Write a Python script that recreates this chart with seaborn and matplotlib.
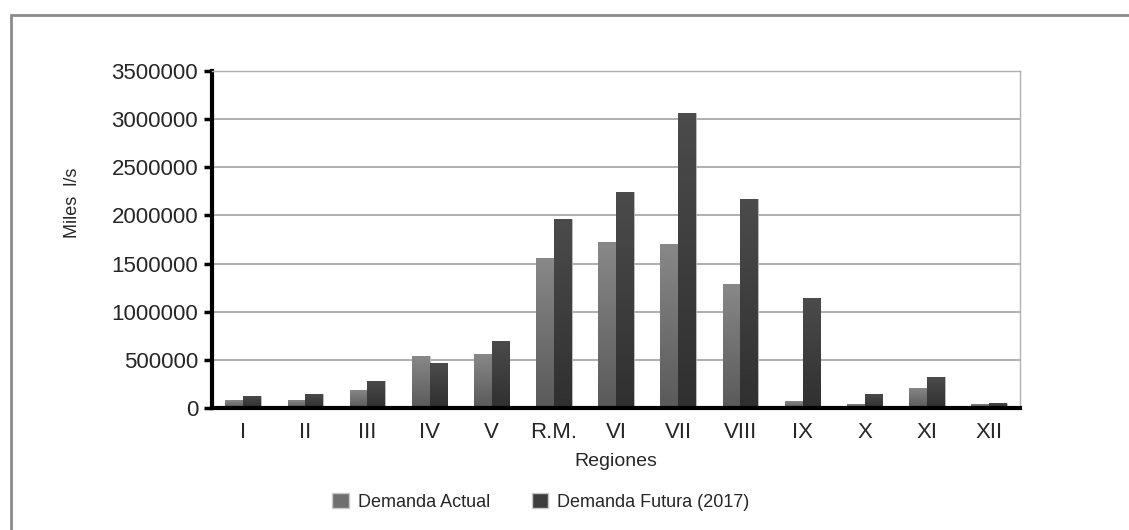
import numpy as np
import pandas as pd
import seaborn as sns
import matplotlib.pyplot as plt
from matplotlib.colors import LinearSegmentedColormap
from matplotlib.lines import Line2D

regiones = ['I', 'II', 'III', 'IV', 'V', 'R.M.', 'VI', 'VII', 'VIII', 'IX', 'X', 'XI', 'XII']
demanda_actual = [80000, 80000, 191000, 535000, 562000, 1559000, 1719000, 1701000,
                  1285000, 69000, 45000, 212000, 45000]
demanda_futura = [128000, 146000, 285000, 472000, 701000, 1965000, 2240000, 3066000,
                  2170000, 1142000, 149000, 319000, 56000]
series = ['Demanda Actual', 'Demanda Futura (2017)']

df = pd.DataFrame({
    'Regiones': regiones * 2,
    'valor': demanda_actual + demanda_futura,
    'serie': [series[0]] * len(regiones) + [series[1]] * len(regiones),
})

sns.set_style('white')
plt.rcParams['font.family'] = ['Liberation Sans', 'DejaVu Sans']

fig = plt.figure(figsize=(11.29, 5.30), dpi=100)
ax = fig.add_axes([0.1878, 0.2302, 0.7157, 0.6358])

colores = {series[0]: '#6f6f6f', series[1]: '#3d3d3d'}
sns.barplot(data=df, x='Regiones', y='valor', hue='serie', palette=colores,
            width=0.57, gap=0, ax=ax, legend=False, edgecolor='#c8c8c8', linewidth=0.5)

# vertical gradient on each bar, like the original spreadsheet look
grad = {series[0]: ('#5a5a5a', '#888888'), series[1]: ('#303030', '#4b4b4b')}
n = len(regiones)
for i, p in enumerate(ax.patches[:2 * n]):
    lo, hi = grad[series[i // n]]
    cmap = LinearSegmentedColormap.from_list('g', [lo, hi])
    x0, y0 = p.get_x(), p.get_y()
    w, h = p.get_width(), p.get_height()
    im = ax.imshow(np.linspace(0, 1, 64).reshape(-1, 1), cmap=cmap, aspect='auto',
                   origin='lower', extent=[x0, x0 + w, y0, y0 + h], zorder=p.get_zorder())
    im.set_clip_path(p)

ax.set_xlim(-0.5, n - 0.5)
ax.set_ylim(0, 3500000)
ax.set_yticks(np.arange(0, 3500001, 500000))
ax.set_yticklabels([f'{v}' for v in range(0, 3500001, 500000)], fontsize=16)
ax.set_xticks(range(n))
ax.set_xticklabels(regiones, fontsize=16)
ax.set_xticks(np.arange(-0.5, n, 1), minor=True)
ax.tick_params(axis='x', which='major', length=0, pad=10)
ax.tick_params(axis='x', which='minor', length=5, width=2.5, direction='out', color='black')
ax.tick_params(axis='y', length=6, width=2.5, direction='out', color='black', left=True, pad=4)

ax.grid(axis='y', color='#9a9a9a', linewidth=1.1)
ax.set_axisbelow(True)
for s in ['left', 'bottom']:
    ax.spines[s].set_color('black')
    ax.spines[s].set_linewidth(3)
for s in ['top', 'right']:
    ax.spines[s].set_color('#b0b0b0')
    ax.spines[s].set_linewidth(1)

ax.set_xlabel('Regiones', fontsize=14, labelpad=7)
ax.set_ylabel('Miles  l/s', fontsize=13)
ax.yaxis.set_label_coords(-0.162, 0.608)

handles = [plt.Rectangle((0, 0), 1, 1, facecolor=colores[s], edgecolor='#c8c8c8') for s in series]
fig.legend(handles, series, loc='center', bbox_to_anchor=(0.479, 0.053), ncol=2,
           frameon=False, fontsize=13, handlelength=0.9, handleheight=0.9,
           columnspacing=2.3, handletextpad=0.5)

# outer frame of the chart area (cut by the image edge)
fig.add_artist(Line2D([0.01, 1.0], [0.972, 0.972], color='#8a8a8a', linewidth=2,
                      transform=fig.transFigure))
fig.add_artist(Line2D([0.01, 0.01], [0.0, 0.972], color='#8a8a8a', linewidth=2,
                      transform=fig.transFigure))

fig.savefig('out.png', dpi=100)
